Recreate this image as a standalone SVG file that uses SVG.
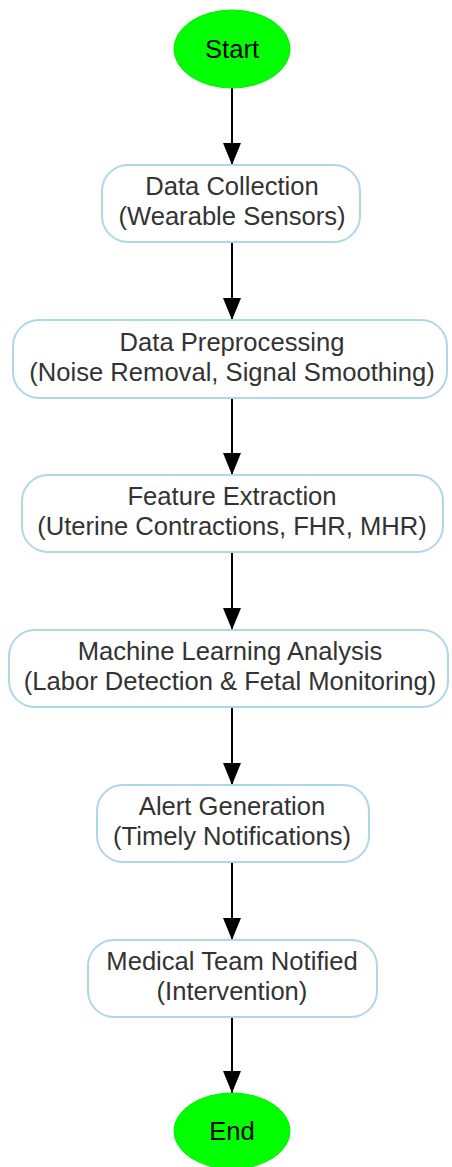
<svg xmlns="http://www.w3.org/2000/svg" width="452" height="1167" viewBox="0 0 452 1167">
<style>
.bg{fill:#ffffff}
.box{fill:#ffffff;stroke:#add8e6;stroke-width:2}
.term{fill:#00ff00;stroke:#00ee00;stroke-width:1}
.t{font-family:"Liberation Sans",Arial,sans-serif;font-size:25.6px;fill:#333333;text-anchor:middle}
.tt{font-family:"Liberation Sans",Arial,sans-serif;font-size:25.6px;fill:#000000;text-anchor:middle}
.edge{stroke:#000000;stroke-width:2;fill:none}
</style>
<defs>
<marker id="arr" markerUnits="userSpaceOnUse" markerWidth="22" markerHeight="18" refX="22" refY="9" orient="auto" viewBox="0 0 22 18">
<path d="M0,0 L22,9 L0,18 Z" fill="#000000"/>
</marker>
</defs>
<rect class="bg" x="0" y="0" width="452" height="1167"/>
<g id="connectors">
<line class="edge" x1="232" y1="88" x2="232" y2="165" marker-end="url(#arr)"/>
<line class="edge" x1="232" y1="242" x2="232" y2="320" marker-end="url(#arr)"/>
<line class="edge" x1="232" y1="398" x2="232" y2="475" marker-end="url(#arr)"/>
<line class="edge" x1="232" y1="552" x2="232" y2="630" marker-end="url(#arr)"/>
<line class="edge" x1="232" y1="707" x2="232" y2="785" marker-end="url(#arr)"/>
<line class="edge" x1="232" y1="862" x2="232" y2="940" marker-end="url(#arr)"/>
<line class="edge" x1="232" y1="1017" x2="232" y2="1093" marker-end="url(#arr)"/>
</g>
<g id="start">
<ellipse class="term" cx="232" cy="49" rx="58" ry="39"/>
<text class="tt" x="232" y="58">Start</text>
</g>
<g id="data-collection">
<rect class="box" x="102" y="165" width="258" height="77" rx="26"/>
<text class="t" x="232" y="195">Data Collection</text>
<text class="t" x="232" y="225">(Wearable Sensors)</text>
</g>
<g id="data-preprocessing">
<rect class="box" x="13" y="320" width="434" height="78" rx="26"/>
<text class="t" x="232" y="351">Data Preprocessing</text>
<text class="t" x="232" y="381">(Noise Removal, Signal Smoothing)</text>
</g>
<g id="feature-extraction">
<rect class="box" x="22" y="475" width="421" height="77" rx="26"/>
<text class="t" x="232" y="505">Feature Extraction</text>
<text class="t" x="232" y="535">(Uterine Contractions, FHR, MHR)</text>
</g>
<g id="ml-analysis">
<rect class="box" x="9" y="630" width="439" height="77" rx="26"/>
<text class="t" x="230" y="660">Machine Learning Analysis</text>
<text class="t" x="230" y="690">(Labor Detection &amp; Fetal Monitoring)</text>
</g>
<g id="alert-generation">
<rect class="box" x="97" y="785" width="272" height="77" rx="26"/>
<text class="t" x="232" y="815">Alert Generation</text>
<text class="t" x="232" y="845">(Timely Notifications)</text>
</g>
<g id="medical-team">
<rect class="box" x="88" y="940" width="289" height="77" rx="26"/>
<text class="t" x="232" y="970">Medical Team Notified</text>
<text class="t" x="232" y="1000">(Intervention)</text>
</g>
<g id="end">
<ellipse class="term" cx="232" cy="1131" rx="58" ry="38"/>
<text class="tt" x="232" y="1140">End</text>
</g>
</svg>
